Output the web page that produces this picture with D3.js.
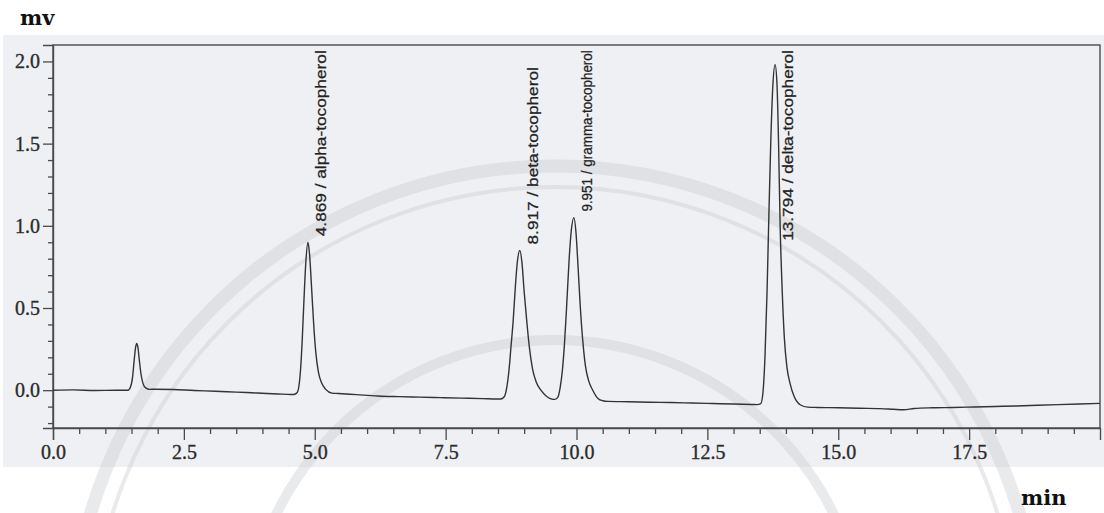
<!DOCTYPE html>
<html>
<head>
<meta charset="utf-8">
<script src="https://cdn.jsdelivr.net/npm/d3@7"></script>
<style>
  html, body { margin: 0; padding: 0; background: #ffffff; }
  svg { display: block; }
</style>
</head>
<body>
<svg id="chart" width="1104" height="513"></svg>
<script>
// ---------------- data ----------------
const xTickValues = [0, 2.5, 5, 7.5, 10, 12.5, 15, 17.5];
const yTickValues = [0, 0.5, 1.0, 1.5, 2.0];

// baseline of the chromatogram outside the peaks: [time (min), signal (mV)]
const baseline = [
  [0, 0.0], [0.4, 0.002], [0.8, -0.002], [1.2, 0.0], [1.40, 0.0],
  [1.95, 0.006], [2.3, 0.004], [2.7, -0.002], [3.1, -0.006], [3.5, -0.012],
  [3.9, -0.017], [4.3, -0.023], [4.55, -0.026],
  [5.45, -0.02], [5.8, -0.027], [6.2, -0.035], [6.6, -0.039], [7.0, -0.042],
  [7.4, -0.045], [7.8, -0.048], [8.2, -0.051], [8.48, -0.054],
  [10.6, -0.068], [11.0, -0.07], [11.4, -0.073], [11.8, -0.075], [12.2, -0.078],
  [12.6, -0.081], [13.0, -0.084], [13.35, -0.087],
  [14.6, -0.105], [15.0, -0.107], [15.4, -0.11], [15.8, -0.112], [16.05, -0.116],
  [16.25, -0.119], [16.45, -0.111], [16.8, -0.107], [17.2, -0.105], [17.6, -0.102],
  [18.0, -0.099], [18.4, -0.096], [18.8, -0.092], [19.2, -0.088], [19.6, -0.084],
  [20, -0.08]
];

// unlabelled early peak
const peakEarly = [
  [1.43, 0.0], [1.48, 0.02], [1.52, 0.08], [1.55, 0.18], [1.58, 0.265],
  [1.60, 0.285], [1.62, 0.265], [1.65, 0.18], [1.68, 0.10], [1.72, 0.04],
  [1.77, 0.014], [1.85, 0.005]
];
const peakAlpha = [
  [4.60, -0.026], [4.66, -0.016], [4.70, 0.03], [4.73, 0.13], [4.76, 0.30],
  [4.79, 0.52], [4.83, 0.78], [4.869, 0.90], [4.90, 0.83], [4.94, 0.62],
  [4.98, 0.40], [5.02, 0.23], [5.07, 0.11], [5.13, 0.045], [5.21, 0.005],
  [5.33, -0.018]
];
const peakBeta = [
  [8.55, -0.054], [8.62, -0.04], [8.67, 0.02], [8.71, 0.12], [8.75, 0.27],
  [8.79, 0.42], [8.83, 0.62], [8.87, 0.78], [8.917, 0.85], [8.96, 0.77],
  [9.00, 0.60], [9.05, 0.42], [9.10, 0.26], [9.16, 0.13], [9.23, 0.05],
  [9.32, 0.0], [9.42, -0.035], [9.53, -0.054]
];
const peakGamma = [
  [9.58, -0.056], [9.64, -0.045], [9.69, 0.02], [9.73, 0.12], [9.77, 0.28],
  [9.81, 0.50], [9.86, 0.80], [9.90, 0.97], [9.951, 1.05], [9.99, 0.96],
  [10.03, 0.75], [10.07, 0.52], [10.12, 0.30], [10.17, 0.15], [10.23, 0.06],
  [10.31, 0.0], [10.41, -0.05], [10.5, -0.064]
];
const peakDelta = [
  [13.45, -0.088], [13.52, -0.082], [13.56, -0.02], [13.60, 0.20], [13.64, 0.60],
  [13.67, 1.00], [13.71, 1.50], [13.75, 1.85], [13.794, 1.98], [13.83, 1.86],
  [13.86, 1.50], [13.89, 1.00], [13.93, 0.60], [13.97, 0.32], [14.02, 0.14],
  [14.08, 0.04], [14.16, -0.04], [14.28, -0.09], [14.42, -0.103]
];

const labelTimes = [4.869, 8.917, 9.951, 13.794];
const labelNames = ["alpha-tocopherol", "beta-tocopherol", "gramma-tocopherol", "delta-tocopherol"];
const labelPeaks = [peakAlpha, peakBeta, peakGamma, peakDelta];

// ---------------- drawing ----------------
const svg = d3.select("#chart");
const W = 1104, H = 513;
const plot = { left: 53, right: 1100, top: 45, bottom: 428 };

const x = d3.scaleLinear().domain([0, 20]).range([plot.left, plot.right]);
const y = d3.scaleLinear().domain([-0.23, 2.1]).range([plot.bottom, plot.top]);

// scanned-paper background
svg.append("rect").attr("x", 3).attr("y", 35).attr("width", W - 3).attr("height", 432)
  .attr("fill", "#eef0f3");

// faint watermark rings
const wm = svg.append("g").attr("fill", "none").attr("stroke", "#c9cbce").attr("opacity", 0.4);
wm.append("circle").attr("cx", 555).attr("cy", 650).attr("r", 484).attr("stroke-width", 13);
wm.append("circle").attr("cx", 555).attr("cy", 650).attr("r", 463).attr("stroke-width", 4);
wm.append("circle").attr("cx", 555).attr("cy", 650).attr("r", 310).attr("stroke-width", 10);

// frame
svg.append("rect")
  .attr("x", plot.left).attr("y", plot.top)
  .attr("width", plot.right - plot.left).attr("height", plot.bottom - plot.top)
  .attr("fill", "none").attr("stroke", "#4a4a4a").attr("stroke-width", 1.4);

const tickFont = "'Liberation Serif', 'Times New Roman', serif";

// minor ticks
const xMinor = d3.range(0, 20, 0.5).filter(v => !xTickValues.some(t => Math.abs(t - v) < 1e-9));
const yMinor = d3.range(-0.2, 2.05, 0.1).map(v => +v.toFixed(2))
  .filter(v => !yTickValues.some(t => Math.abs(t - v) < 1e-9));

function styleAxis(g) {
  g.select(".domain").attr("stroke", "#4a4a4a").attr("stroke-width", 1.4);
  g.selectAll(".tick line").attr("stroke", "#4a4a4a").attr("stroke-width", 1.3);
  g.selectAll(".tick text").attr("fill", "#2b2b2b")
    .attr("stroke", "#2b2b2b").attr("stroke-width", 0.35)
    .style("font-family", tickFont).style("font-size", "20px");
}

svg.append("g").attr("transform", `translate(0,${plot.bottom})`)
  .call(d3.axisBottom(x).tickValues(xMinor).tickSize(6).tickFormat(""))
  .call(styleAxis).call(g => g.select(".domain").remove());
svg.append("g").attr("transform", `translate(0,${plot.bottom})`)
  .call(d3.axisBottom(x).tickValues(xTickValues).tickSize(12).tickPadding(5).tickFormat(d3.format(".1f")))
  .call(styleAxis);

svg.append("g").attr("transform", `translate(${plot.left},0)`)
  .call(d3.axisLeft(y).tickValues(yMinor).tickSize(5).tickFormat(""))
  .call(styleAxis).call(g => g.select(".domain").remove());
svg.append("g").attr("transform", `translate(${plot.left},0)`)
  .call(d3.axisLeft(y).tickValues(yTickValues).tickSize(10).tickPadding(3).tickFormat(d3.format(".1f")))
  .call(styleAxis);

// chromatogram trace
const signal = [].concat(baseline, peakEarly, peakAlpha, peakBeta, peakGamma, peakDelta)
  .sort((a, b) => a[0] - b[0]);
const line = d3.line().x(d => x(d[0])).y(d => y(d[1])).curve(d3.curveMonotoneX);
svg.append("path").datum(signal)
  .attr("d", line)
  .attr("fill", "none").attr("stroke", "#333333").attr("stroke-width", 1.4)
  .attr("stroke-linejoin", "round");

// peak labels (rotated)
const baseStretch = 1.15;
const topLimit = plot.top + 5;
labelTimes.forEach((t, i) => {
  const apex = d3.max(labelPeaks[i], d => d[1]);
  const g = svg.append("g");
  const txt = g.append("text")
    .attr("text-anchor", "start")
    .style("font-family", "'Liberation Sans', Arial, sans-serif")
    .style("font-size", "15px")
    .attr("fill", "#222")
    .attr("stroke", "#222").attr("stroke-width", 0.25)
    .text(`${t.toFixed(3)} / ${labelNames[i]}`);
  const raw = txt.node().getComputedTextLength();
  let stretch = baseStretch;
  let bottom = y(apex) - 6;
  const avail = bottom - topLimit;
  if (raw * stretch > avail) {
    if (avail >= raw * stretch * 0.65) {
      stretch = avail / raw;            // squeeze to fit above the peak
    } else {
      bottom = topLimit + raw * stretch; // hang from the top of the frame
    }
  }
  g.attr("transform", `translate(${x(t) + 18},${bottom}) rotate(-90) scale(${stretch},1)`);
});

// axis unit labels
const unitFont = "'DejaVu Serif', serif";
svg.append("text").attr("x", 20).attr("y", 25).text("mv")
  .style("font-family", unitFont).style("font-weight", "bold").style("font-size", "21px").attr("fill", "#111");
svg.append("text").attr("x", 1021).attr("y", 505).text("min")
  .style("font-family", unitFont).style("font-weight", "bold").style("font-size", "21px").attr("fill", "#111");
</script>
</body>
</html>
